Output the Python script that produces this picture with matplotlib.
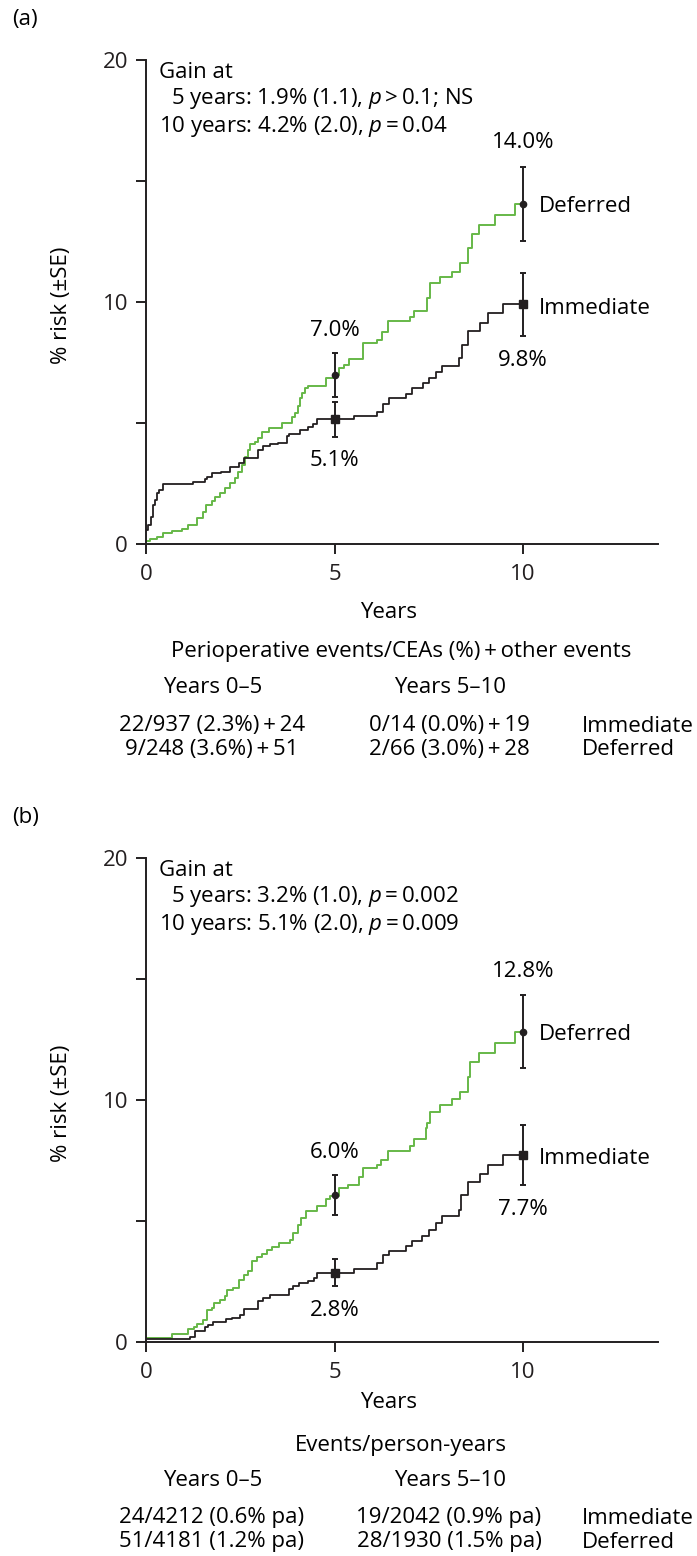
import numpy as np
import matplotlib.pyplot as plt

# ------------------------------------------------
# 1) Data
# ------------------------------------------------

# panel (a): cumulative % risk, step positions (years, %)
a_imm_t = [0, 0.06, 0.13, 0.19, 0.24, 0.28, 0.35, 0.46, 1.24, 1.56, 1.61, 1.74, 2.0,
           2.24, 2.46, 2.6, 2.98, 3.11, 3.3, 3.5, 3.73, 3.78, 4.08, 4.3, 4.43, 4.53,
           5.53, 6.14, 6.29, 6.45, 6.9, 7.06, 7.34, 7.5, 7.69, 7.85, 8.29, 8.38, 8.54,
           8.86, 9.08, 9.47, 10.0]
a_imm_y = [0.58, 0.79, 1.13, 1.61, 1.82, 2.09, 2.23, 2.47, 2.55, 2.67, 2.78, 2.92, 2.96,
           3.2, 3.33, 3.54, 3.9, 4.06, 4.13, 4.19, 4.46, 4.55, 4.71, 4.85, 4.96, 5.15,
           5.3, 5.47, 5.79, 6.02, 6.2, 6.43, 6.64, 6.85, 7.12, 7.36, 7.67, 8.22, 8.82,
           9.12, 9.53, 9.9, 9.9]

a_def_t = [0, 0.11, 0.28, 0.46, 0.68, 0.95, 1.12, 1.34, 1.52, 1.58, 1.74, 1.83, 1.96,
           2.1, 2.23, 2.36, 2.45, 2.54, 2.63, 2.71, 2.76, 2.89, 2.98, 3.07, 3.25, 3.6,
           3.86, 3.95, 4.02, 4.08, 4.15, 4.21, 4.3, 4.78, 5.0, 5.13, 5.26, 5.39, 5.75,
           6.14, 6.27, 6.43, 6.99, 7.1, 7.46, 7.54, 7.81, 8.11, 8.33, 8.54, 8.64, 8.82,
           9.25, 9.78, 10.0]
a_def_y = [0.14, 0.19, 0.28, 0.44, 0.54, 0.62, 0.79, 1.06, 1.34, 1.61, 1.79, 1.96, 2.12,
           2.3, 2.51, 2.71, 2.99, 3.26, 3.61, 3.88, 4.13, 4.23, 4.37, 4.64, 4.78, 5.01,
           5.26, 5.4, 5.7, 6.02, 6.25, 6.46, 6.53, 6.85, 6.98, 7.26, 7.4, 7.63, 8.29,
           8.43, 8.77, 9.21, 9.39, 9.61, 10.15, 10.8, 11.02, 11.25, 11.6, 12.22, 12.81, 13.18,
           13.6, 14.05, 14.05]

# panel (b)
b_imm_t = [0, 1.17, 1.3, 1.56, 1.65, 1.79, 2.11, 2.27, 2.48, 2.6, 2.98, 3.09, 3.29,
           3.78, 3.91, 4.07, 4.31, 4.45, 4.53, 5.53, 6.14, 6.29, 6.45, 6.9, 7.06, 7.32,
           7.5, 7.68, 7.85, 8.31, 8.36, 8.54, 8.86, 9.08, 9.47, 10.0]
b_imm_y = [0.12, 0.22, 0.47, 0.6, 0.7, 0.84, 0.94, 0.98, 1.12, 1.35, 1.71, 1.8, 1.95,
           2.18, 2.33, 2.42, 2.52, 2.66, 2.87, 3.0, 3.25, 3.6, 3.77, 3.97, 4.19, 4.38,
           4.63, 4.93, 5.21, 5.45, 6.07, 6.63, 6.94, 7.31, 7.73, 7.73]

b_def_t = [0, 0.68, 1.12, 1.26, 1.34, 1.52, 1.61, 1.74, 1.8, 1.96, 2.1, 2.16, 2.32,
           2.46, 2.6, 2.71, 2.8, 2.94, 3.07, 3.2, 3.33, 3.54, 3.82, 3.9, 4.04, 4.12,
           4.25, 4.54, 4.78, 4.87, 5.13, 5.35, 5.66, 5.75, 6.14, 6.23, 6.43, 6.99, 7.1,
           7.43, 7.46, 7.54, 7.81, 8.11, 8.33, 8.54, 8.6, 8.82, 9.25, 9.78, 10.0]
b_def_y = [0.15, 0.33, 0.52, 0.6, 0.73, 0.91, 1.32, 1.39, 1.6, 1.72, 1.9, 2.13, 2.25,
           2.55, 2.75, 2.92, 3.35, 3.5, 3.64, 3.8, 3.94, 4.08, 4.21, 4.52, 4.83, 5.11,
           5.43, 5.62, 5.92, 6.03, 6.35, 6.49, 6.83, 7.18, 7.31, 7.52, 7.91, 8.1, 8.37,
           8.83, 9.06, 9.52, 9.79, 10.03, 10.34, 10.94, 11.58, 11.96, 12.34, 12.82, 12.82]

# estimates at 5 and 10 years (+- SE)
est_years = [5, 10]
a_def_est, a_def_se = [6.98, 14.05], [0.9, 1.53]
a_imm_est, a_imm_se = [5.15, 9.9], [0.72, 1.3]
b_def_est, b_def_se = [6.07, 12.82], [0.82, 1.5]
b_imm_est, b_imm_se = [2.87, 7.72], [0.57, 1.25]

a_def_lab = ['7.0%', '14.0%']
a_imm_lab = ['5.1%', '9.8%']
b_def_lab = ['6.0%', '12.8%']
b_imm_lab = ['2.8%', '7.7%']

a_gain = ['Gain at',
          '5 years: 1.9% (1.1), $p$\u2009>\u20090.1; NS',
          '10 years: 4.2% (2.0), $p$\u2009=\u20090.04']
b_gain = ['Gain at',
          '5 years: 3.2% (1.0), $p$\u2009=\u20090.002',
          '10 years: 5.1% (2.0), $p$\u2009=\u20090.009']

a_table_head = 'Perioperative events/CEAs (%)\u2009+\u2009other events'
a_table_05 = ['22/937 (2.3%)\u2009+\u200924', '9/248 (3.6%)\u2009+\u200951']
a_table_510 = ['0/14 (0.0%)\u2009+\u200919', '2/66 (3.0%)\u2009+\u200928']
b_table_head = 'Events/person-years'
b_table_05 = ['24/4212 (0.6% pa)', '51/4181 (1.2% pa)']
b_table_510 = ['19/2042 (0.9% pa)', '28/1930 (1.5% pa)']
groups = ['Immediate', 'Deferred']

# ------------------------------------------------
# 2) Style
# ------------------------------------------------
plt.rcParams['font.family'] = ['Open Sans', 'DejaVu Sans']
plt.rcParams['mathtext.fontset'] = 'custom'
plt.rcParams['mathtext.rm'] = 'Open Sans'
plt.rcParams['mathtext.it'] = 'Open Sans:italic'
FS = 16
INK = '#231f20'
GREEN = '#66b848'

W, H = 697, 1556
fig = plt.figure(figsize=(W / 100, H / 100), dpi=100)


def fx(px):
    return px / W


def fy(py):
    return 1 - py / H


def draw_panel(top, tag, imm_t, imm_y, def_t, def_y, imm_est, imm_se, def_est, def_se,
               imm_lab, def_lab, gain, head, col05, col510, offs):
    zero = top + 484
    ax = fig.add_axes([fx(146), fy(zero), fx(658) - fx(146), fy(top) - fy(zero)])
    ax.step(def_t, def_y, where='post', color=GREEN, lw=1.4)
    ax.step(imm_t, imm_y, where='post', color=INK, lw=1.3)

    ax.errorbar(est_years, def_est, yerr=def_se, fmt='none', ecolor=INK,
                elinewidth=1.4, capsize=2.5, capthick=1.4)
    ax.errorbar(est_years, imm_est, yerr=imm_se, fmt='none', ecolor=INK,
                elinewidth=1.4, capsize=2.5, capthick=1.4)
    ax.plot(est_years, def_est, 'o', ms=4.5, color=INK)
    ax.plot(est_years, imm_est, 's', ms=5.5, color=INK)

    # value labels above deferred / below immediate
    for xx, v, s in zip(est_years, def_est, def_lab):
        ax.text(xx, v + def_se[est_years.index(xx)] + 1.0 - (0.05 if xx == 5 else 0),
                s, ha='center', va='center', fontsize=FS)
    for xx, v, s in zip(est_years, imm_est, imm_lab):
        ax.text(xx, v - imm_se[est_years.index(xx)] - 1.0, s,
                ha='center', va='center', fontsize=FS)
    ax.text(10.42, def_est[1] - 0.1, groups[1], ha='left', va='center', fontsize=FS)
    ax.text(10.42, imm_est[1] - 0.15, groups[0], ha='left', va='center', fontsize=FS)

    ax.text(0.345, 19.5, gain[0], ha='left', va='center', fontsize=FS)
    ax.text(0.66, 18.4, gain[1], ha='left', va='center', fontsize=FS)
    ax.text(0.345, 17.25, gain[2], ha='left', va='center', fontsize=FS)

    ax.set_xlim(0, 13.58)
    ax.set_ylim(0, 20)
    ax.set_xticks([0, 5, 10])
    ax.set_yticks([0, 5, 10, 15, 20])
    ax.set_yticklabels(['0', '', '10', '', '20'])
    for side in ['top', 'right']:
        ax.spines[side].set_visible(False)
    for side in ['left', 'bottom']:
        ax.spines[side].set_linewidth(1.4)
        ax.spines[side].set_color(INK)
    ax.tick_params(axis='both', direction='out', length=7.5, width=1.4, color=INK,
                   labelsize=FS, labelcolor=INK)
    ax.tick_params(axis='x', pad=7)
    ax.tick_params(axis='y', pad=5.5)

    fig.text(fx(12), fy(top - 40), tag, ha='left', va='center', fontsize=FS)
    fig.text(fx(62), fy(top + 245), '% risk (\u00b1SE)', rotation=90,
             ha='center', va='center', fontsize=FS)

    # bottom table
    fig.text(fx(389), fy(zero + offs[0]), 'Years', ha='center', va='center', fontsize=FS)
    fig.text(fx(401), fy(zero + offs[1]), head, ha='center', va='center', fontsize=FS)
    fig.text(fx(213), fy(zero + offs[2]), 'Years 0\u20135', ha='center', va='center', fontsize=FS)
    fig.text(fx(450), fy(zero + offs[2]), 'Years 5\u201310', ha='center', va='center', fontsize=FS)
    for i in range(2):
        yy = fy(zero + offs[3 + i])
        fig.text(fx(212), yy, col05[i], ha='center', va='center', fontsize=FS)
        fig.text(fx(449), yy, col510[i], ha='center', va='center', fontsize=FS)
        fig.text(fx(582), yy, groups[i], ha='left', va='center', fontsize=FS)
    return ax


draw_panel(60, '(a)', a_imm_t, a_imm_y, a_def_t, a_def_y, a_imm_est, a_imm_se,
           a_def_est, a_def_se, a_imm_lab, a_def_lab, a_gain,
           a_table_head, a_table_05, a_table_510, [69, 108, 144, 182, 205])
draw_panel(858, '(b)', b_imm_t, b_imm_y, b_def_t, b_def_y, b_imm_est, b_imm_se,
           b_def_est, b_def_se, b_imm_lab, b_def_lab, b_gain,
           b_table_head, b_table_05, b_table_510, [61, 103, 139, 176, 200])

plt.savefig('out.png', dpi=100)
